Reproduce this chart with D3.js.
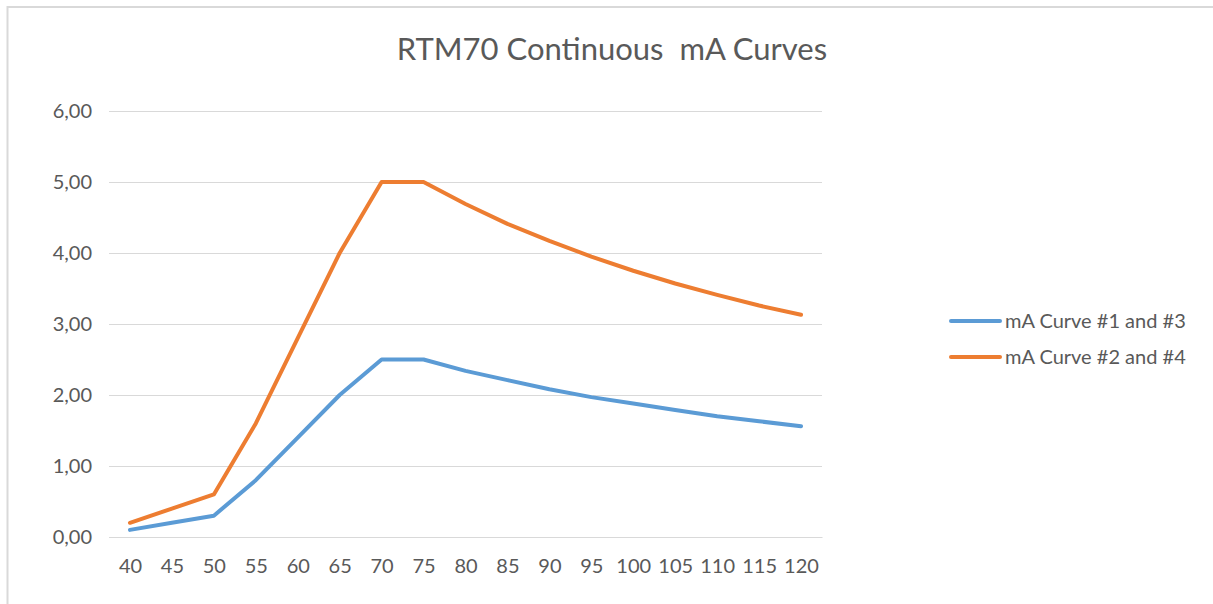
<!DOCTYPE html>
<html><head><meta charset="utf-8">
<script src="https://cdn.jsdelivr.net/npm/d3@7"></script>
<style>body{margin:0;background:#fff;} text{font-family:Lato,"Open Sans",sans-serif;}</style>
</head><body>
<svg id="c" width="1213" height="604"></svg>
<script>
const categories = ["40","45","50","55","60","65","70","75","80","85","90","95","100","105","110","115","120"];
const curve13 = [0.10,0.20,0.30,0.80,1.40,2.00,2.50,2.50,2.34,2.21,2.08,1.97,1.88,1.79,1.70,1.63,1.56];
const curve24 = [0.20,0.40,0.60,1.60,2.80,4.00,5.00,5.00,4.69,4.41,4.17,3.95,3.75,3.57,3.41,3.26,3.13];
const seriesNames = ["mA Curve #1 and #3","mA Curve #2 and #4"];
const seriesColors = ["#5B9BD5","#ED7D31"];
const yTicks = [0,1,2,3,4,5,6];
const title = "RTM70 Continuous  mA Curves";

const svg = d3.select("#c");
svg.append("rect").attr("x",7.5).attr("y",7).attr("width",1220).attr("height",620)
  .attr("fill","#fff").attr("stroke","#d9d9d9").attr("stroke-width",2);

const x = d3.scalePoint().domain(categories).range([109,822]).padding(0.5);
const y = d3.scaleLinear().domain([0,6]).range([537,111]);

svg.append("text").attr("x",612).attr("y",60).attr("text-anchor","middle")
  .attr("fill","#595959").style("font-size","31px").style("white-space","pre")
  .text(title);

const gy = svg.append("g").attr("transform","translate(109,0)")
  .call(d3.axisLeft(y).tickValues(yTicks).tickSize(-713).tickFormat(d=>d3.format(".2f")(d).replace(".",",")));
gy.select(".domain").remove();
gy.selectAll(".tick line").attr("stroke","#d9d9d9");
gy.selectAll(".tick text").attr("fill","#595959").attr("x",-17).style("font-size","20px");

const gx = svg.append("g").attr("transform","translate(0,537)")
  .call(d3.axisBottom(x).tickSize(0).tickPadding(22));
gx.select(".domain").attr("stroke","#d9d9d9");
gx.selectAll(".tick text").attr("fill","#595959").style("font-size","20px");

const line = d3.line().x((d,i)=>x(categories[i])).y(d=>y(d));
[curve13,curve24].forEach((s,k)=>{
  svg.append("path").datum(s).attr("d",line).attr("fill","none")
    .attr("stroke",seriesColors[k]).attr("stroke-width",4).attr("stroke-linejoin","round").attr("stroke-linecap","round");
});

const lg = svg.append("g");
seriesNames.forEach((n,k)=>{
  const yy = 321 + k*36;
  lg.append("line").attr("x1",951).attr("x2",1000).attr("y1",yy).attr("y2",yy)
    .attr("stroke",seriesColors[k]).attr("stroke-width",4).attr("stroke-linecap","round");
  lg.append("text").attr("x",1005).attr("y",yy).attr("dy","0.35em").attr("fill","#595959")
    .style("font-size","20px").text(n);
});
</script>
</body></html>
